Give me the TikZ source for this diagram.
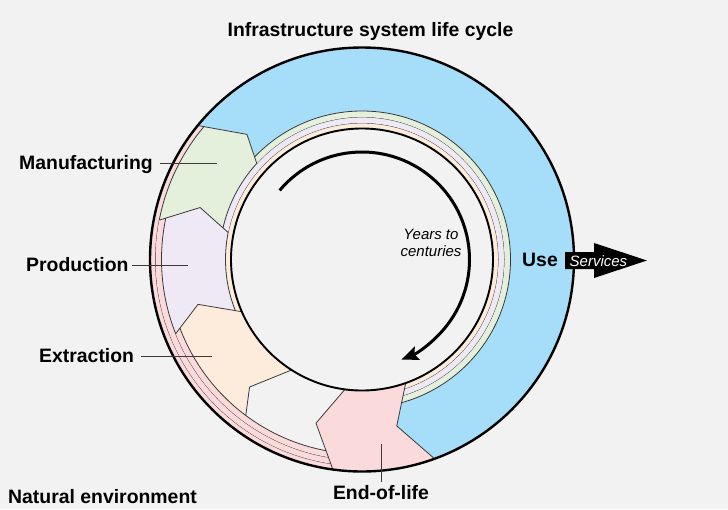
\documentclass[tikz,border=0pt]{standalone}
\usepackage{fontspec}
\setmainfont{Liberation Sans}
\usetikzlibrary{arrows.meta}

\definecolor{bgc}{HTML}{F2F2F2}
\definecolor{usec}{RGB}{166,222,250}
\definecolor{manc}{RGB}{228,240,220}
\definecolor{proc}{RGB}{238,233,244}
\definecolor{extc}{RGB}{253,236,220}
\definecolor{eolc}{RGB}{250,218,218}
\definecolor{edgec}{HTML}{3A3A3A}

\tikzset{
  label/.style={font=\fontsize{19.4}{22}\selectfont\bfseries, inner sep=0pt},
  note/.style={font=\fontsize{15}{17}\selectfont\itshape, inner sep=0pt},
  edge/.style={draw=edgec, line width=0.8pt},
  leader/.style={draw=edgec, line width=1pt},
  ringedge/.style={draw=edgec, line width=0.8pt},
}

\begin{document}
\begin{tikzpicture}[x=1pt, y=1pt, line join=round]
  % canvas
  \fill[bgc] (0,0) rectangle (728,-509);
  \useasboundingbox (0,0) rectangle (728,-509);

  \begin{scope}[shift={(362,-259.5)}]
    % ---- phase sectors of the annulus (fills only) ----
    % Use
    \fill[usec] (137.6:131) -- (137.6:142.5) -- (132.6:170) -- (140.8:212)
      arc[start angle=140.8, end angle=-70, radius=212]
      -- (-78.2:170) -- (-70.5:131)
      arc[start angle=-70.5, end angle=137.6, radius=131] -- cycle;
    % Manufacturing
    \fill[manc] (168.6:131) -- (168.6:136.5) -- (162.2:170) -- (169:206.5) -- (169:212)
      arc[start angle=169, end angle=140.8, radius=212]
      -- (132.6:170) -- (137.6:142.5) -- (137.6:131)
      arc[start angle=137.6, end angle=168.6, radius=131] -- cycle;
    % Production
    \fill[proc] (203.5:131) -- (195.3:170) -- (201.7:200.5) -- (201.7:212)
      arc[start angle=201.7, end angle=169, radius=212]
      -- (169:206.5) -- (162.2:170) -- (168.6:136.5) -- (168.6:131)
      arc[start angle=168.6, end angle=203.5, radius=131] -- cycle;
    % Extraction
    \fill[extc] (237.5:131) -- (228.6:170) -- (233.3:194.5) -- (233.3:212)
      arc[start angle=233.3, end angle=201.7, radius=212]
      -- (201.7:200.5) -- (195.3:170) -- (203.5:131)
      arc[start angle=203.5, end angle=237.5, radius=131] -- cycle;

    % ---- outer returning rings (end-of-life flows) ----
    % ring 1: from Use/Manufacturing boundary
    \begin{scope}
      \clip (0,0) -- (137.6:142.5) -- (132.6:170) -- (140.8:212) -- (140.8:260)
        arc[start angle=140.8, end angle=275, radius=260] -- cycle;
      \fill[eolc, even odd rule] (0,0) circle[radius=212] (0,0) circle[radius=206.5];
      \draw[ringedge] (0,0) circle[radius=206.5];
    \end{scope}
    % ring 2: from Manufacturing/Production boundary
    \begin{scope}
      \clip (0,0) -- (168.6:136.5) -- (162.2:170) -- (169:206.5) -- (169:260)
        arc[start angle=169, end angle=275, radius=260] -- cycle;
      \fill[eolc, even odd rule] (0,0) circle[radius=206.5] (0,0) circle[radius=200.5];
      \draw[ringedge] (0,0) circle[radius=200.5];
    \end{scope}
    % ring 3: from Production/Extraction boundary
    \begin{scope}
      \clip (0,0) -- (203.5:131) -- (195.3:170) -- (201.7:200.5) -- (201.7:260)
        arc[start angle=201.7, end angle=275, radius=260] -- cycle;
      \fill[eolc, even odd rule] (0,0) circle[radius=200.5] (0,0) circle[radius=194.5];
      \draw[ringedge] (0,0) circle[radius=194.5];
    \end{scope}

    % ---- inner embodied-material rings ----
    % extraction material
    \begin{scope}
      \clip (0,0) -- (203.5:131) -- (195.3:170) -- (201.7:200.5) -- (201.7:260)
        arc[start angle=201.7, end angle=-85, radius=260] -- cycle;
      \fill[extc, even odd rule] (0,0) circle[radius=136.5] (0,0) circle[radius=131];
      \draw[ringedge] (0,0) circle[radius=136.5];
    \end{scope}
    % production material
    \begin{scope}
      \clip (0,0) -- (168.6:131) -- (168.6:136.5) -- (162.2:170) -- (169:206.5) -- (169:260)
        arc[start angle=169, end angle=-85, radius=260] -- cycle;
      \fill[proc, even odd rule] (0,0) circle[radius=142.5] (0,0) circle[radius=136.5];
      \draw[ringedge] (0,0) circle[radius=142.5];
    \end{scope}
    % manufacturing material
    \begin{scope}
      \clip (0,0) -- (137.6:131) -- (137.6:142.5) -- (132.6:170) -- (140.8:212) -- (140.8:260)
        arc[start angle=140.8, end angle=-85, radius=260] -- cycle;
      \fill[manc, even odd rule] (0,0) circle[radius=148.5] (0,0) circle[radius=142.5];
      \draw[ringedge] (0,0) circle[radius=148.5];
    \end{scope}

    % ---- chevron boundaries between phases ----
    \draw[edge] (140.8:212) -- (132.6:170) -- (137.6:142.5);
    \draw[edge] (169:206.5) -- (162.2:170) -- (168.6:136.5);
    \draw[edge] (201.7:200.5) -- (195.3:170) -- (203.5:131);
    \draw[edge] (233.3:194.5) -- (228.6:170) -- (237.5:131);

    % ---- End-of-life sector ----
    \filldraw[fill=eolc, edge] (-70.5:131) -- (-78.2:170) -- (-70:212)
      arc[start angle=-70, end angle=-97.9, radius=212]
      -- (-105.7:170) -- (-97.5:131)
      arc[start angle=-97.5, end angle=-70.5, radius=131] -- cycle;

    % ---- outer and inner rims ----
    \draw[black, line width=2.4pt] (0,0) circle[radius=212];
    \draw[black, line width=1.9pt] (0,0) circle[radius=131];

    % ---- time arrow ----
    \coordinate (tA) at (140:107.5);
    \draw[black, line width=3pt, -{Stealth[length=17pt, width=14pt, inset=3pt]}]
      (tA) arc[start angle=140, end angle=-68.5, radius=107.5];
  \end{scope}

  % ---- labels ----
  \node[label, anchor=base] (title) at (370.5,-36) {Infrastructure system life cycle};

  \node[label, anchor=base west] (manu) at (19,-169) {Manufacturing};
  \coordinate (manuA) at (160,-163);
  \coordinate (manuB) at (217,-163);
  \draw[leader] (manuA) -- (manuB);

  \node[label, anchor=base west] (prod) at (26,-271) {Production};
  \coordinate (prodA) at (132,-265);
  \coordinate (prodB) at (188,-265);
  \draw[leader] (prodA) -- (prodB);

  \node[label, anchor=base west] (extr) at (39,-362) {Extraction};
  \coordinate (extrA) at (141,-356.5);
  \coordinate (extrB) at (212,-356.5);
  \draw[leader] (extrA) -- (extrB);

  \node[label, anchor=base] (eol) at (381,-499) {End-of-life};
  \coordinate (eolA) at (381,-482);
  \coordinate (eolB) at (381,-444);
  \draw[leader] (eolA) -- (eolB);

  \node[label, anchor=base west] (nat) at (8,-503) {Natural environment};

  \node[label, anchor=base west] (use) at (522,-266) {Use};

  \node[note, align=center, anchor=base] (yrs) at (431,-256) {Years to\\centuries};

  % services output arrow
  \fill[black] (565,-252) -- (594,-252) -- (594,-243) -- (647,-260.5)
    -- (594,-278) -- (594,-269) -- (565,-269) -- cycle;
  \node[note, text=white, anchor=base west] (svc) at (569.5,-266) {Services};
\end{tikzpicture}
\end{document}
